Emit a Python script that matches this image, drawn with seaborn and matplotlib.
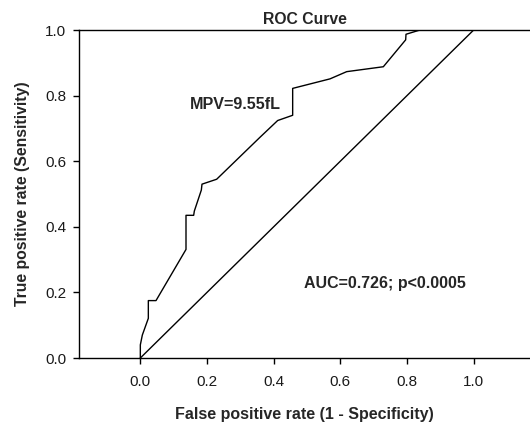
import matplotlib
matplotlib.use("Agg")
import matplotlib.pyplot as plt
import seaborn as sns
import pandas as pd

# ROC points
fpr = [0.0, 0.0, 0.006, 0.024, 0.024, 0.047, 0.137, 0.137, 0.160, 0.162, 0.183,
       0.185, 0.229, 0.359, 0.412, 0.457, 0.457, 0.569, 0.619, 0.729, 0.796,
       0.797, 0.839, 1.0]
tpr = [0.0, 0.04, 0.07, 0.121, 0.175, 0.175, 0.331, 0.435, 0.435, 0.448, 0.512,
       0.530, 0.545, 0.673, 0.724, 0.740, 0.822, 0.851, 0.873, 0.888, 0.970,
       0.987, 1.0, 1.0]
ref_x = [0.0, 1.0]
ref_y = [0.0, 1.0]

sns.set_style("ticks")
plt.rcParams['font.family'] = ['Liberation Sans', 'DejaVu Sans']

roc = pd.DataFrame({"fpr": fpr, "tpr": tpr})
ref = pd.DataFrame({"x": ref_x, "y": ref_y})

fig = plt.figure(figsize=(5.3, 4.26), dpi=100)
ax = fig.add_axes([79/530, 68/426, 1 - 79/530, 328/426])

# estimator=None so repeated x values are drawn as steps, not averaged
sns.lineplot(data=roc, x="fpr", y="tpr", sort=False, estimator=None,
             color="black", lw=1.0, ax=ax)
sns.lineplot(data=ref, x="x", y="y", sort=False, estimator=None,
             color="black", lw=1.0, ax=ax)

ax.set_xlim(-0.184, 1.169)
ax.set_ylim(0, 1.0)
ax.set_xticks([0.0, 0.2, 0.4, 0.6, 0.8, 1.0])
ax.set_yticks([0.0, 0.2, 0.4, 0.6, 0.8, 1.0])
ax.set_xticklabels(["0.0", "0.2", "0.4", "0.6", "0.8", "1.0"])
ax.set_yticklabels(["0.0", "0.2", "0.4", "0.6", "0.8", "1.0"])
ax.tick_params(axis="both", labelsize=11, length=4, width=1, color="black",
               labelcolor="#1a1a1a", direction="out", pad=5)
ax.tick_params(axis="x", pad=8.5)

ax.spines["right"].set_visible(False)
for s in ["left", "bottom", "top"]:
    ax.spines[s].set_linewidth(1.0)
    ax.spines[s].set_color("black")

ax.set_xlabel("False positive rate (1 - Specificity)", fontsize=11.5,
              fontweight="bold", labelpad=12.5)
ax.set_ylabel("True positive rate (Sensitivity)", fontsize=11.3,
              fontweight="bold", labelpad=11)
ax.set_title("ROC Curve", fontsize=11.3, fontweight="bold", pad=4)

ax.text(0.149, 0.774, "MPV=9.55fL", fontsize=11.6, fontweight="bold",
        va="center", ha="left")
ax.text(0.492, 0.228, "AUC=0.726; p<0.0005", fontsize=11.5, fontweight="bold",
        va="center", ha="left")

fig.savefig("out.png", dpi=100)
